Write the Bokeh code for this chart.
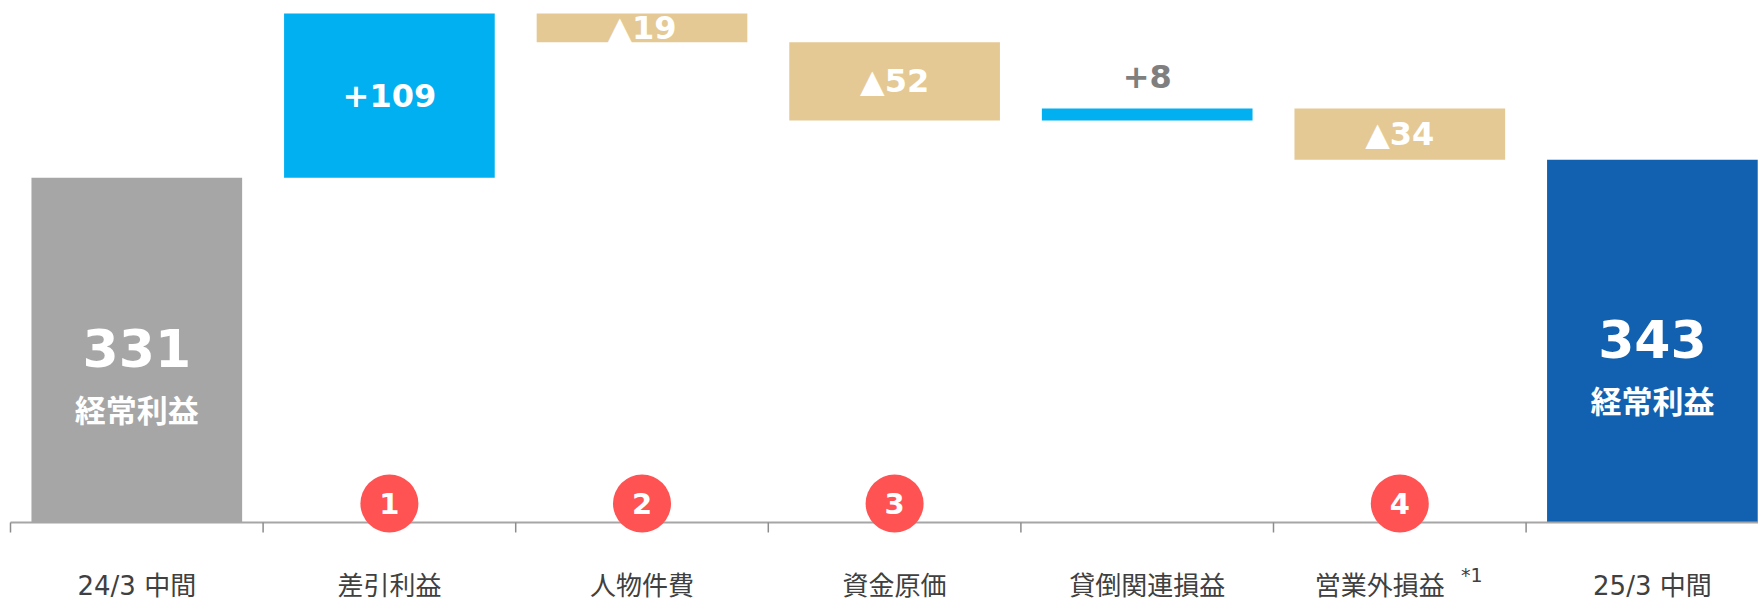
from bokeh.plotting import figure
from bokeh.models import ColumnDataSource, Range1d
from bokeh.core.properties import value
from bokeh.embed import file_html
from bokeh.resources import INLINE

# ---------------- data ----------------
categories = ["24/3 中間", "差引利益", "人物件費", "資金原価", "貸倒関連損益", "営業外損益", "25/3 中間"]
notes = ["", "", "", "", "", "*1", ""]
start_value = 331
deltas = [109, -19, -52, 8, -34]
end_value = 343
markers = ["", "1", "2", "3", "", "4", ""]
total_caption = "経常利益"
AXIS_BASE = 102.25  # value at the (broken) category axis line

# ---------------- styles ----------------
C_START = "#A6A6A6"
C_UP = "#00B0F0"
C_DOWN = "#E4C994"
C_END = "#1261B0"
C_MARK = "#FF5252"
C_LABEL = "#404040"
C_SMALL = "#7F7F7F"
C_AXIS = "#A6A6A6"
NUM_FONT = value("DejaVu Sans")
JP_FONT = value("Noto Sans CJK JP")
MIX_FONT = value("DejaVu Sans, Noto Sans CJK JP")

W, H = 1758, 601
PX_X = 252.6   # pixels per category
PX_Y = 1.507   # pixels per value unit
LEFT_PAD = 10  # pixels left of first category boundary
TOP_PAD = 13   # pixels above highest bar

# ---------------- waterfall geometry from data ----------------
n = len(categories)
xs = list(range(n))
bottoms, tops, colors, texts = [], [], [], []
bottoms.append(AXIS_BASE); tops.append(start_value); colors.append(C_START); texts.append(str(start_value))
cum = start_value
for d in deltas:
    bottoms.append(min(cum, cum + d)); tops.append(max(cum, cum + d))
    colors.append(C_UP if d > 0 else C_DOWN)
    texts.append(("+%d" % d) if d > 0 else ("▲%d" % -d))
    cum += d
bottoms.append(AXIS_BASE); tops.append(end_value); colors.append(C_END); texts.append(str(end_value))

x_start = -0.5 - LEFT_PAD / PX_X
x_end = x_start + W / PX_X
y_end = max(tops) + TOP_PAD / PX_Y
y_start = y_end - H / PX_Y

p = figure(width=W, height=H, output_backend="svg", toolbar_location=None,
           x_range=Range1d(x_start, x_end), y_range=Range1d(y_start, y_end),
           min_border=0, outline_line_color=None)
p.xaxis.visible = False
p.yaxis.visible = False
p.xgrid.visible = False
p.ygrid.visible = False
p.background_fill_color = "white"
p.border_fill_color = "white"

src = ColumnDataSource(dict(x=xs, bottom=bottoms, top=tops, color=colors))
p.vbar(x="x", bottom="bottom", top="top", width=0.834, fill_color="color", line_color=None, source=src)

# axis line and ticks at category boundaries
bounds = [i - 0.5 for i in range(n + 1)]
p.segment(x0=[bounds[0]], y0=[AXIS_BASE], x1=[bounds[-1] + 1], y1=[AXIS_BASE], line_color=C_AXIS, line_width=2)
p.segment(x0=bounds, y0=[AXIS_BASE] * len(bounds), x1=bounds, y1=[AXIS_BASE - 10 / PX_Y] * len(bounds),
          line_color="#8C8C8C", line_width=1.5)

# totals: number + caption
tot_idx = [0, n - 1]
tot = ColumnDataSource(dict(x=[xs[i] for i in tot_idx],
                            y=[(AXIS_BASE + tops[i]) / 2 for i in tot_idx],
                            t=[texts[i] for i in tot_idx],
                            c=[total_caption] * len(tot_idx)))
p.text(x="x", y="y", text="t", source=tot, text_color="white", text_font=NUM_FONT,
       text_font_style="bold", text_font_size="52px", text_align="center",
       text_baseline="middle", y_offset=-2)
p.text(x="x", y="y", text="c", source=tot, text_color="white", text_font=JP_FONT,
       text_font_style="bold", text_font_size="31px", text_align="center",
       text_baseline="middle", y_offset=58)

# delta labels
in_x, in_y, in_t, out_x, out_y, out_t = [], [], [], [], [], []
for k, d in enumerate(deltas):
    i = k + 1
    if abs(d) * PX_Y >= 20:
        in_x.append(xs[i]); in_y.append((bottoms[i] + tops[i]) / 2); in_t.append(texts[i])
    else:
        out_x.append(xs[i]); out_y.append(tops[i]); out_t.append(texts[i])
p.text(x=in_x, y=in_y, text=in_t, text_color="white", text_font=NUM_FONT, text_font_style="bold",
       text_font_size="32px", text_align="center", text_baseline="middle")
p.text(x=out_x, y=out_y, text=out_t, text_color=C_SMALL, text_font=NUM_FONT, text_font_style="bold",
       text_font_size="32px", text_align="center", text_baseline="middle", y_offset=-32)

# numbered markers
mk_x = [xs[i] for i in range(n) if markers[i]]
mk_t = [markers[i] for i in range(n) if markers[i]]
mk_y = [AXIS_BASE + 19 / PX_Y] * len(mk_x)
p.scatter(x=mk_x, y=mk_y, size=58, marker="circle", fill_color=C_MARK, line_color=None)
p.text(x=mk_x, y=mk_y, text=mk_t, text_color="white", text_font=NUM_FONT, text_font_style="bold",
       text_font_size="29px", text_align="center", text_baseline="middle")

# category labels
lab_off = [-20 if notes[i] else 0 for i in range(n)]
p.text(x=xs, y=[AXIS_BASE] * n, text=categories, x_offset=lab_off, text_color=C_LABEL,
       text_font=MIX_FONT, text_font_size="26px", text_align="center", text_baseline="middle",
       y_offset=64)
nt_x = [xs[i] for i in range(n) if notes[i]]
nt_t = [notes[i] for i in range(n) if notes[i]]
p.text(x=nt_x, y=[AXIS_BASE] * len(nt_x), text=nt_t, x_offset=72, y_offset=53, text_color=C_LABEL,
       text_font=NUM_FONT, text_font_size="19px", text_align="center", text_baseline="middle")

open("out.html", "w").write(file_html(p, INLINE))
